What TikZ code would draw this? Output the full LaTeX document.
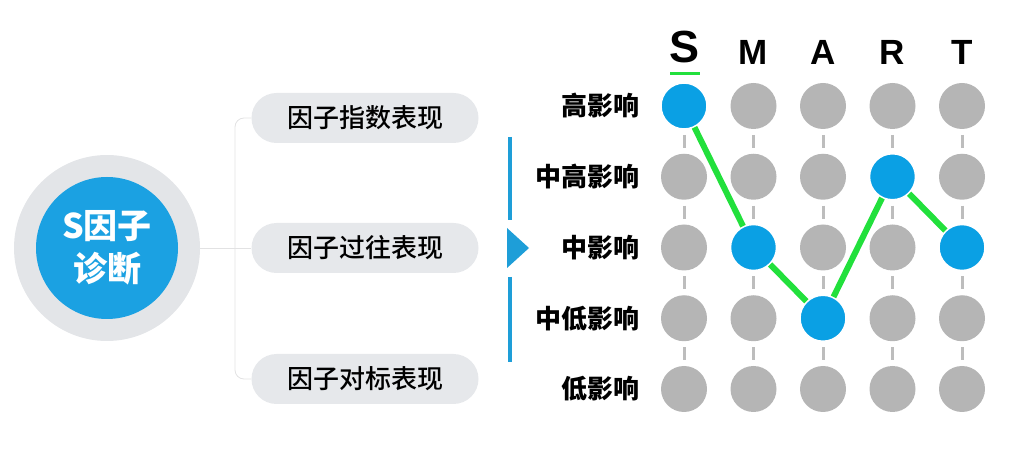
\documentclass[tikz,border=0pt]{standalone}
\usepackage{fontspec}
\setmainfont{Liberation Sans}
\newfontfamily\cjk{Noto Sans CJK SC}
\IfFontExistsTF{Noto Sans CJK SC Medium}
  {\newfontfamily\cjkmed{Noto Sans CJK SC Medium}}
  {\newfontfamily\cjkmed{Noto Sans CJK SC}}
\usetikzlibrary{positioning}

\definecolor{smartblue}{HTML}{0AA0E4}
\definecolor{hubblue}{HTML}{1BA1E2}
\definecolor{barblue}{HTML}{1E9ED8}
\definecolor{dotgray}{HTML}{B5B5B5}
\definecolor{tickgray}{HTML}{BDBDBD}
\definecolor{ringgray}{HTML}{E3E5E8}
\definecolor{pillgray}{HTML}{E6E8EB}
\definecolor{smartgreen}{HTML}{22E03C}

\tikzset{
  ring/.style={circle, fill=ringgray, minimum size=186pt, inner sep=0pt},
  hub/.style={circle, fill=hubblue, minimum size=142pt, inner sep=0pt, text=white,
    align=center, font=\cjk\bfseries\fontsize{34}{43}\selectfont},
  pill/.style={rectangle, rounded corners=25pt, fill=pillgray, minimum width=227pt,
    minimum height=50pt, inner sep=0pt, font=\cjkmed\fontsize{26}{26}\selectfont},
  branch/.style={draw=ringgray!80!black!40, line width=0.8pt},
  rowlabel/.style={anchor=east, inner sep=0pt, font=\cjk\bfseries\fontsize{26}{26}\selectfont},
  letter/.style={anchor=base, inner sep=0pt, font=\bfseries\fontsize{35}{35}\selectfont},
  dot/.style={circle, fill=dotgray, minimum size=46pt, inner sep=0pt},
  hit/.style={dot, fill=smartblue, draw=white, line width=1.5pt},
  tick/.style={draw=tickgray, line width=3pt},
  zigzag/.style={draw=smartgreen, line width=6pt},
}

\begin{document}
\begin{tikzpicture}[x=1pt,y=-1pt]
  \useasboundingbox (0,0) rectangle (1029,454);
  \def\dx{69.5}
  \def\dy{70.75}

  \node[ring] (hubring) at (107,248) {};
  \node[hub] (hub) at (107,248) {S因子\\诊断};

  \node[pill] (p1) at (365,118) {因子指数表现};
  \node[pill] (p2) at (365,248) {因子过往表现};
  \node[pill] (p3) at (365,379) {因子对标表现};

  \coordinate (trunk) at (235,248);
  \draw[branch] (hubring) -- (p2);
  \draw[branch, rounded corners=9pt] (p1.west) -| (trunk) |- (p3.west);

  \draw[draw=barblue, line width=4pt] (509.5,137) -- (509.5,220);
  \draw[draw=barblue, line width=4pt] (509.5,277) -- (509.5,362);
  \fill[barblue] (507,228) -- (529,248) -- (507,268) -- cycle;

  \node[letter, font=\bfseries\fontsize{45}{45}\selectfont] (l1) at (685,63) {S};
  \foreach \l [count=\c from 2] in {M,A,R,T}
    \node[letter] (l\c) at ({684+(\c-1)*\dx},65) {\l};
  \draw[smartgreen, line width=3pt] (670,73.5) -- (700,73.5);

  \foreach \t [count=\r] in {高影响,中高影响,中影响,中低影响,低影响}
    \node[rowlabel] (row\r) at (640,{106+(\r-1)*\dy}) {\t};

  \foreach \c in {1,...,5}
    \foreach \r in {1,...,4}
      \draw[tick] ({684+(\c-1)*\dx},{106+(\r-1)*\dy+29}) -- ++(0,13);

  \foreach \c in {1,...,5}
    \foreach \r in {1,...,5}
      \node[dot] (d\r\c) at ({684+(\c-1)*\dx},{106+(\r-1)*\dy}) {};

  \node[hit] (h1) at (d11) {};
  \node[hit] (h2) at (d32) {};
  \node[hit] (h3) at (d43) {};
  \node[hit] (h4) at (d24) {};
  \node[hit] (h5) at (d35) {};

  \draw[zigzag] (h1) -- (h2) -- (h3) -- (h4) -- (h5);
\end{tikzpicture}
\end{document}
